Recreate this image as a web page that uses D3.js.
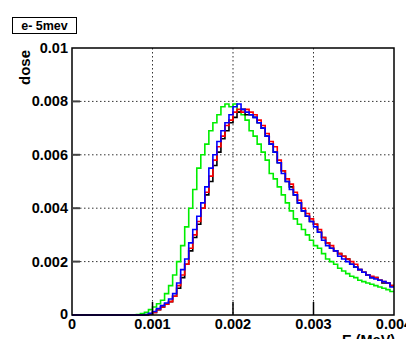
<!DOCTYPE html>
<html>
<head>
<meta charset="utf-8">
<script src="https://cdn.jsdelivr.net/npm/d3@7"></script>
<style>
  body { margin: 0; background: #fff; }
  svg { display: block; }
  text { font-family: "Liberation Sans", Arial, sans-serif; font-weight: bold; fill: #000; }
</style>
</head>
<body>
<div id="chart"></div>
<script>
"use strict";
// histogram: 80 bins of 0.00005 MeV from 0 to 0.004
const binWidth = 0.00005;
const xTicks = [0, 0.001, 0.002, 0.003, 0.004];
const xTickLabels = ["0", "0.001", "0.002", "0.003", "0.004"];
const yTicks = [0, 0.002, 0.004, 0.006, 0.008, 0.01];
const yTickLabels = ["0", "0.002", "0.004", "0.006", "0.008", "0.01"];

const greenValues = [
  0, 0, 0, 0, 0, 0, 0, 0, 0, 0, 0, 0, 0, 0, 0, 0,
  0.00002, 0.00005, 0.0001, 0.0002, 0.0003, 0.00042, 0.00055, 0.0008,
  0.0011, 0.0015, 0.002, 0.0026, 0.0033, 0.004, 0.0047, 0.0055,
  0.006, 0.0064, 0.0069, 0.0072, 0.0075, 0.0078, 0.0079, 0.0078,
  0.0079, 0.0076, 0.0075, 0.0073, 0.0069, 0.0067, 0.0064, 0.0061,
  0.0058, 0.0053, 0.0051, 0.0048, 0.0045, 0.0042, 0.0039, 0.0036,
  0.0034, 0.0032, 0.003, 0.0028, 0.0026, 0.0025, 0.0023, 0.0021,
  0.002, 0.0019, 0.00175, 0.00165, 0.00155, 0.00145, 0.0014, 0.0013,
  0.00125, 0.0012, 0.00115, 0.0011, 0.00105, 0.001, 0.00095, 0.00088
];
const blackValues = [
  0, 0, 0, 0, 0, 0, 0, 0, 0, 0, 0, 0, 0, 0, 0, 0,
  0, 0, 0, 0.00003, 0.0001, 0.0002, 0.0003, 0.0004,
  0.0005, 0.0007, 0.001, 0.0014, 0.0019, 0.0024, 0.0029, 0.0034,
  0.004, 0.0045, 0.005, 0.0056, 0.0061, 0.0066, 0.0069, 0.0072,
  0.0074, 0.0076, 0.0077, 0.0075, 0.0075, 0.0074, 0.0072, 0.007,
  0.0067, 0.0064, 0.0061, 0.0057, 0.0054, 0.005, 0.0048, 0.0045,
  0.0042, 0.0039, 0.0037, 0.0035, 0.0034, 0.0031, 0.0029, 0.0027,
  0.0025, 0.0024, 0.0023, 0.0022, 0.0021, 0.0019, 0.0018, 0.0017,
  0.0016, 0.0015, 0.0014, 0.0014, 0.0013, 0.0012, 0.0012, 0.0011
];
const redValues = [
  0, 0, 0, 0, 0, 0, 0, 0, 0, 0, 0, 0, 0, 0, 0, 0,
  0, 0, 0.00001, 0.00004, 0.0001, 0.0002, 0.0003, 0.0004,
  0.0005, 0.0007, 0.0011, 0.0015, 0.0019, 0.0025, 0.003, 0.0035,
  0.004, 0.0046, 0.0052, 0.0058, 0.0063, 0.0067, 0.0071, 0.0073,
  0.0076, 0.0077, 0.0076, 0.0077, 0.0076, 0.0075, 0.0073, 0.0071,
  0.0068, 0.0065, 0.0063, 0.0058, 0.0054, 0.0051, 0.0049, 0.0046,
  0.0043, 0.004, 0.0038, 0.0036, 0.0034, 0.0032, 0.0029, 0.0027,
  0.0026, 0.0024, 0.0023, 0.0022, 0.0021, 0.002, 0.0019, 0.0017,
  0.0016, 0.0015, 0.00145, 0.0014, 0.0013, 0.00125, 0.0012, 0.0011
];
const blueValues = [
  0, 0, 0, 0, 0, 0, 0, 0, 0, 0, 0, 0, 0, 0, 0, 0,
  0, 0, 0.00002, 0.00006, 0.00013, 0.00024, 0.00035, 0.00045,
  0.0006, 0.0008, 0.0012, 0.0017, 0.0021, 0.0027, 0.0032, 0.0037,
  0.0042, 0.0048, 0.0055, 0.006, 0.0065, 0.0069, 0.0072, 0.0075,
  0.0078, 0.0079, 0.0077, 0.0076, 0.0075, 0.0074, 0.0072, 0.007,
  0.0067, 0.0064, 0.0061, 0.0057, 0.0053, 0.005, 0.0047, 0.0045,
  0.0042, 0.0039, 0.0037, 0.0035, 0.0033, 0.0031, 0.0028, 0.0026,
  0.0025, 0.0024, 0.0022, 0.0021, 0.002, 0.0019, 0.0018, 0.0017,
  0.0016, 0.0015, 0.0014, 0.00135, 0.0013, 0.00125, 0.0012, 0.00105
];

const series = [
  {name: "green", values: greenValues, color: "#00ee00"},
  {name: "black", values: blackValues, color: "#000000"},
  {name: "red", values: redValues, color: "#ff0000"},
  {name: "blue", values: blueValues, color: "#0000ff"}
];

const W = 406, H = 339;
const margin = {top: 48, right: 12, bottom: 24, left: 72};
const width = W - margin.left - margin.right,
      height = H - margin.top - margin.bottom;

const svg = d3.select("#chart").append("svg")
    .attr("width", W).attr("height", H);

// Legend box
svg.append("rect")
    .attr("x", 12.5).attr("y", 17.5).attr("width", 64).attr("height", 16)
    .attr("fill", "#fff").attr("stroke", "#000").attr("stroke-width", 1);
svg.append("text")
    .attr("x", 44.5).attr("y", 30)
    .attr("text-anchor", "middle")
    .style("font-size", "12.5px")
    .text("e- 5mev");

const g = svg.append("g")
    .attr("transform", "translate(" + margin.left + "," + margin.top + ")");

var x = d3.scaleLinear().domain([0, 0.004]).range([0, width]);
var y = d3.scaleLinear().domain([0, 0.01]).range([height, 0]);

// Grid (dotted)
g.append("g").selectAll("line")
    .data(xTicks.slice(1, -1))
    .enter().append("line")
    .attr("x1", d => x(d)).attr("x2", d => x(d))
    .attr("y1", 0).attr("y2", height)
    .attr("stroke", "#333").attr("stroke-width", 1)
    .attr("stroke-dasharray", "1.5,2.5");
g.append("g").selectAll("line")
    .data(yTicks.slice(1, -1))
    .enter().append("line")
    .attr("y1", d => y(d)).attr("y2", d => y(d))
    .attr("x1", 0).attr("x2", width)
    .attr("stroke", "#333").attr("stroke-width", 1)
    .attr("stroke-dasharray", "1.5,2.5");

// Histograms
g.append("clipPath").attr("id", "plot-clip")
    .append("rect").attr("x", 0).attr("y", -2).attr("width", width).attr("height", height + 4);

const line = d3.line()
    .x(d => x(d[0]))
    .y(d => y(d[1]))
    .curve(d3.curveStepAfter);

series.forEach(s => {
    let pts = s.values.map((v, i) => [i * binWidth, v]);
    pts.push([s.values.length * binWidth, s.values[s.values.length - 1]]);
    g.append("path")
        .datum(pts)
        .attr("clip-path", "url(#plot-clip)")
        .attr("fill", "none")
        .attr("stroke", s.color)
        .attr("stroke-width", 1.6)
        .attr("d", line);
});

// Frame
g.append("rect")
    .attr("x", 0).attr("y", 0).attr("width", width).attr("height", height)
    .attr("fill", "none").attr("stroke", "#000").attr("stroke-width", 1.5);

// Ticks (inside)
g.append("g").selectAll("line")
    .data(yTicks.slice(1, -1))
    .enter().append("line")
    .attr("x1", 0).attr("x2", 8)
    .attr("y1", d => y(d)).attr("y2", d => y(d))
    .attr("stroke", "#444").attr("stroke-width", 2);
g.append("g").selectAll("line")
    .data(xTicks.slice(1, -1))
    .enter().append("line")
    .attr("y1", height).attr("y2", height - 13)
    .attr("x1", d => x(d)).attr("x2", d => x(d))
    .attr("stroke", "#000").attr("stroke-width", 1.5);

// Tick labels
g.append("g").selectAll("text")
    .data(yTicks)
    .enter().append("text")
    .attr("x", -4)
    .attr("y", (d, i) => y(d) + 5 + (i === 0 ? -1 : 0))
    .attr("text-anchor", "end")
    .style("font-size", "14.5px")
    .text((d, i) => yTickLabels[i]);
g.append("g").selectAll("text")
    .data(xTicks)
    .enter().append("text")
    .attr("x", d => x(d))
    .attr("y", height + 14)
    .attr("text-anchor", "middle")
    .style("font-size", "14.5px")
    .text((d, i) => xTickLabels[i]);

// Axis titles
svg.append("text")
    .attr("x", 342).attr("y", 345)
    .style("font-size", "14.5px")
    .text("E (MeV)");
svg.append("text")
    .attr("transform", "translate(30,50) rotate(-90)")
    .attr("text-anchor", "end")
    .style("font-size", "15px")
    .text("dose");
</script>
</body>
</html>
